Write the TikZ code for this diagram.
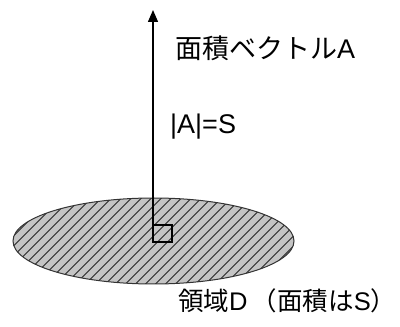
\documentclass[tikz,border=0pt]{standalone}
\usepackage{fontspec}
\setmainfont{Liberation Sans}
\newfontfamily\cjk{Noto Sans CJK JP}
\usetikzlibrary{arrows.meta,shapes.geometric}
\definecolor{regionfill}{RGB}{196,196,196}
\tikzset{
  lbl/.style={anchor=west, inner sep=0pt, font=\fontsize{27}{30}\selectfont},
  region/.style={ellipse, draw=black!80, line width=1pt, fill=regionfill,
    minimum width=281pt, minimum height=86pt, inner sep=0pt},
  vec/.style={-{Triangle[length=12pt,width=10pt]}, line width=1.4pt},
  normalsq/.style={draw=black, line width=1.2pt}
}
\begin{document}
\begin{tikzpicture}[x=1pt,y=1pt]
\useasboundingbox (0,0) rectangle (400,327);
\node[region, path picture={
  \foreach \k in {-250,-240,...,250} {
    \draw[black!85, line width=0.8pt] (\k,-55) -- ++(110,110);
  }
}] (D) at (153.5,86) {};
\coordinate (base) at (153,85);
\coordinate (tip) at (153,317);
\coordinate (sqa) at (153,85);
\coordinate (sqb) at (172,102);
\draw[normalsq] (sqa) rectangle (sqb);
\draw[vec] (base) -- (tip);
\node[lbl] (vname) at (175,279) {{\cjk 面積ベクトル}A};
\node[lbl] (mag) at (170,200) {|A|=S};
\node[lbl, font=\fontsize{25.5}{28}\selectfont] (dname) at (178,26) {{\cjk 領域}D\,{\cjk （面積は}S{\cjk ）}};
\end{tikzpicture}
\end{document}
